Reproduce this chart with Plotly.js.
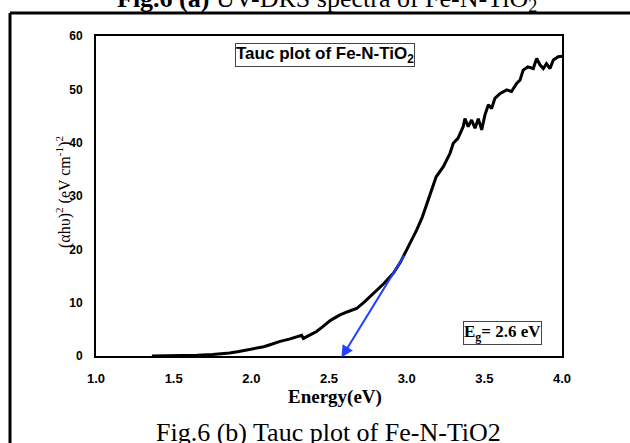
<!DOCTYPE html>
<html><head><meta charset="utf-8">
<script src="https://cdn.plot.ly/plotly-3.0.1.min.js"></script>
<style>html,body{margin:0;padding:0;background:#fff}#chart{width:630px;height:443px}</style>
</head><body><div id="chart"></div>
<script>
// Tauc plot data
const energy = [1.36,1.45,1.55,1.65,1.75,1.82,1.86,1.92,1.97,2.02,2.08,2.13,2.18,2.25,2.30,2.324,2.335,2.38,2.42,2.46,2.506,2.54,2.571,2.62,2.678,2.73,2.785,2.85,2.914,2.96,3.0,3.03,3.064,3.10,3.13,3.16,3.19,3.236,3.279,3.30,3.33,3.364,3.375,3.396,3.418,3.44,3.461,3.483,3.504,3.526,3.547,3.568,3.6,3.644,3.675,3.708,3.73,3.75,3.78,3.815,3.837,3.858,3.88,3.90,3.923,3.944,3.976,4.0];
const tauc = [0.02,0.04,0.08,0.15,0.28,0.42,0.56,0.85,1.1,1.4,1.75,2.2,2.7,3.2,3.6,3.9,3.3,4.0,4.6,5.5,6.6,7.2,7.7,8.3,8.9,10.2,11.75,13.5,15.5,17.6,19.9,21.5,23.6,26.0,28.6,31.0,33.6,35.5,38.0,39.9,40.8,43.0,44.5,43.0,44.25,42.7,44.5,42.4,45.2,47.1,46.4,48.3,49.2,49.9,49.6,51.1,51.75,53.6,54.2,53.9,55.8,54.6,53.9,54.8,53.9,55.5,56.1,56.2];
const xTicks = [1.0,1.5,2.0,2.5,3.0,3.5,4.0];
const xTickText = ["1.0","1.5","2.0","2.5","3.0","3.5","4.0"];
const yTicks = [0,10,20,30,40,50,60];
const fitLine = {x0: 2.99, y0: 19.1, x1: 2.58, y1: -0.3};

const trace = {x: energy, y: tauc, mode: 'lines', type: 'scatter',
  line: {color: '#000', width: 3}, hoverinfo: 'skip', showlegend: false};

const L=96, R=562, T=36, B=356;
const px = v => (v - L)/(R-L);
const py = v => (B - v)/(B-T);

const layout = {
  width: 630, height: 443,
  margin: {l: L, r: 630-R, t: T, b: 443-B, pad: 0},
  paper_bgcolor: '#fff', plot_bgcolor: '#fff',
  showlegend: false,
  xaxis: {range: [1, 4], tickvals: xTicks, ticktext: xTickText, showgrid: false, zeroline: false,
    showline: true, mirror: true, linecolor: '#000', linewidth: 2, ticks: '', ticklabelstandoff: 9,
    tickfont: {family: 'Liberation Sans, Arial', size: 13, color: '#000', weight: 'bold'}},
  yaxis: {range: [0, 60], tickvals: yTicks, showgrid: false, zeroline: false,
    showline: true, mirror: true, linecolor: '#000', linewidth: 2, ticks: '', ticklabelstandoff: 9,
    tickfont: {family: 'Liberation Sans, Arial', size: 12, color: '#000', weight: 'bold'}},
  shapes: [
    {type: 'line', xref: 'paper', yref: 'paper', x0: px(10), x1: px(630), y0: py(13), y1: py(13), line: {color: '#000', width: 3}},
    {type: 'line', xref: 'paper', yref: 'paper', x0: px(10), x1: px(10), y0: py(13), y1: py(445), line: {color: '#000', width: 3}}
  ],
  annotations: [
    {xref: 'paper', yref: 'paper', x: px(327), y: py(0), xanchor: 'center', yanchor: 'middle', showarrow: false,
     text: '<b>Fig.6 (a)</b> UV-DRS spectra of Fe-N-TiO<sub>2</sub>',
     font: {family: 'Liberation Serif, Times New Roman', size: 26, color: '#000'}},
    {xref: 'paper', yref: 'paper', x: px(328), y: py(432), xanchor: 'center', yanchor: 'middle', showarrow: false,
     text: 'Fig.6 (b) Tauc plot of Fe-N-TiO2',
     font: {family: 'Liberation Serif, Times New Roman', size: 26, color: '#000'}},
    {xref: 'paper', yref: 'paper', x: px(335), y: py(397), xanchor: 'center', yanchor: 'middle', showarrow: false,
     text: '<b>Energy(eV)</b>',
     font: {family: 'Liberation Serif, Times New Roman', size: 19, color: '#000'}},
    {xref: 'paper', yref: 'paper', x: px(63), y: py(192), xanchor: 'center', yanchor: 'middle', showarrow: false, textangle: -90,
     text: '(αhυ)<sup>2</sup> (eV cm<sup>-1</sup>)<sup>2</sup>',
     font: {family: 'Liberation Serif, Times New Roman', size: 16, color: '#000'}},
    {xref: 'paper', yref: 'paper', x: px(324.5), y: py(55), xanchor: 'center', yanchor: 'middle', showarrow: false,
     text: '<b>Tauc plot of Fe-N-TiO<sub>2</sub></b>', bgcolor: '#fff', bordercolor: '#444', borderwidth: 1, borderpad: 0,
     font: {family: 'Liberation Sans, Arial', size: 17, color: '#000'}},
    {xref: 'paper', yref: 'paper', x: px(502.5), y: py(332.5), xanchor: 'center', yanchor: 'middle', showarrow: false,
     text: '<b>E<sub>g</sub>= 2.6 eV</b>', bgcolor: '#fff', bordercolor: '#444', borderwidth: 1, borderpad: 0,
     font: {family: 'Liberation Serif, Times New Roman', size: 17, color: '#000'}},
    {xref: 'x', yref: 'y', axref: 'x', ayref: 'y', x: fitLine.x1, y: fitLine.y1, ax: fitLine.x0, ay: fitLine.y0,
     showarrow: true, arrowhead: 2, arrowsize: 1.2, arrowwidth: 2, arrowcolor: '#2240ff', text: ''}
  ]
};
Plotly.newPlot('chart', [trace], layout, {staticPlot: true, displayModeBar: false});
</script></body></html>
